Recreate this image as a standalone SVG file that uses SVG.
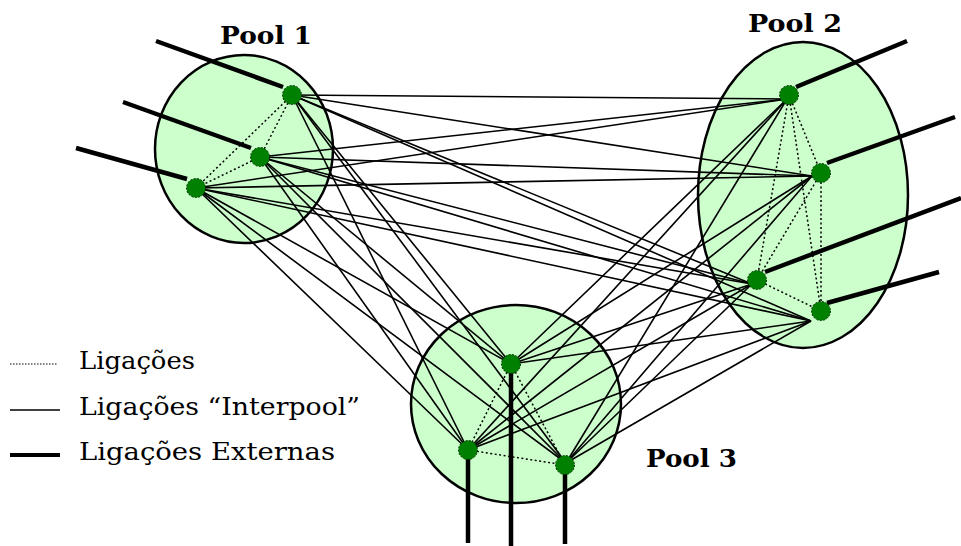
<svg xmlns="http://www.w3.org/2000/svg" width="961" height="546" viewBox="0 0 961 546">
<style>
.pool{fill:#ccffcc;stroke:#000;stroke-width:2.5}
.inter{stroke:#000;stroke-width:1.6;fill:none}
.intra{stroke:#000;stroke-width:1.5;stroke-dasharray:2,2.5;fill:none}
.ext{stroke:#000;stroke-width:4.5;fill:none}
.node{fill:#008000;stroke:#003300;stroke-width:1;stroke-dasharray:2,1.5}
.plabel{font-family:"DejaVu Serif",serif;font-weight:bold;font-size:25px;fill:#000}
.legend{font-family:"DejaVu Serif","Liberation Serif",serif;font-size:25px;fill:#000}
</style>
<rect width="961" height="546" fill="#fff"/>
<g id="pools">
<ellipse id="pool1-area" class="pool" cx="244" cy="149" rx="89" ry="94"/>
<ellipse id="pool2-area" class="pool" cx="803" cy="195" rx="105" ry="153"/>
<ellipse id="pool3-area" class="pool" cx="516" cy="404" rx="105" ry="99"/>
</g>
<g id="connectors">
<g id="interpool">
<line class="inter" x1="292" y1="95" x2="787" y2="99"/>
<line class="inter" x1="292" y1="95" x2="812" y2="176"/>
<line class="inter" x1="292" y1="95" x2="752" y2="284"/>
<line class="inter" x1="292" y1="95" x2="811" y2="321"/>
<line class="inter" x1="260" y1="157" x2="787" y2="99"/>
<line class="inter" x1="260" y1="157" x2="812" y2="176"/>
<line class="inter" x1="260" y1="157" x2="752" y2="284"/>
<line class="inter" x1="260" y1="157" x2="811" y2="321"/>
<line class="inter" x1="196" y1="188" x2="787" y2="99"/>
<line class="inter" x1="196" y1="188" x2="812" y2="176"/>
<line class="inter" x1="196" y1="188" x2="752" y2="284"/>
<line class="inter" x1="196" y1="188" x2="811" y2="321"/>
<line class="inter" x1="292" y1="95" x2="511" y2="364"/>
<line class="inter" x1="292" y1="95" x2="468" y2="450"/>
<line class="inter" x1="292" y1="95" x2="566" y2="463"/>
<line class="inter" x1="260" y1="157" x2="511" y2="364"/>
<line class="inter" x1="260" y1="157" x2="468" y2="450"/>
<line class="inter" x1="260" y1="157" x2="566" y2="463"/>
<line class="inter" x1="196" y1="188" x2="511" y2="364"/>
<line class="inter" x1="196" y1="188" x2="468" y2="450"/>
<line class="inter" x1="196" y1="188" x2="566" y2="463"/>
<line class="inter" x1="787" y1="99" x2="511" y2="364"/>
<line class="inter" x1="787" y1="99" x2="468" y2="450"/>
<line class="inter" x1="787" y1="99" x2="566" y2="463"/>
<line class="inter" x1="812" y1="176" x2="511" y2="364"/>
<line class="inter" x1="812" y1="176" x2="468" y2="450"/>
<line class="inter" x1="812" y1="176" x2="566" y2="463"/>
<line class="inter" x1="752" y1="284" x2="511" y2="364"/>
<line class="inter" x1="752" y1="284" x2="468" y2="450"/>
<line class="inter" x1="752" y1="284" x2="566" y2="463"/>
<line class="inter" x1="811" y1="321" x2="511" y2="364"/>
<line class="inter" x1="811" y1="321" x2="468" y2="450"/>
<line class="inter" x1="811" y1="321" x2="566" y2="463"/>
</g>
<g id="intrapool">
<line class="intra" x1="292" y1="95" x2="260" y2="157"/>
<line class="intra" x1="292" y1="95" x2="196" y2="188"/>
<line class="intra" x1="260" y1="157" x2="196" y2="188"/>
<line class="intra" x1="789" y1="95" x2="821" y2="173"/>
<line class="intra" x1="789" y1="95" x2="757" y2="280"/>
<line class="intra" x1="789" y1="95" x2="821" y2="311"/>
<line class="intra" x1="821" y1="173" x2="757" y2="280"/>
<line class="intra" x1="821" y1="173" x2="821" y2="311"/>
<line class="intra" x1="757" y1="280" x2="821" y2="311"/>
<line class="intra" x1="511" y1="364" x2="468" y2="450"/>
<line class="intra" x1="511" y1="364" x2="565" y2="465"/>
<line class="intra" x1="468" y1="450" x2="565" y2="465"/>
</g>
<g id="external">
<line class="ext" x1="156" y1="41" x2="283" y2="87"/>
<line class="ext" x1="123" y1="102" x2="251" y2="148"/>
<line class="ext" x1="76" y1="148" x2="187" y2="179"/>
<line class="ext" x1="907" y1="41" x2="796" y2="87"/>
<line class="ext" x1="955" y1="117" x2="827" y2="163"/>
<line class="ext" x1="961" y1="198" x2="765" y2="272"/>
<line class="ext" x1="939" y1="272" x2="827" y2="303"/>
<line class="ext" x1="468" y1="455" x2="468" y2="543"/>
<line class="ext" x1="511" y1="370" x2="511" y2="546"/>
<line class="ext" x1="565" y1="470" x2="565" y2="544"/>
</g>
</g>
<g id="pool1-nodes">
<circle id="p1n1" class="node" cx="292" cy="95" r="9.5"/>
<circle id="p1n2" class="node" cx="260" cy="157" r="9.5"/>
<circle id="p1n3" class="node" cx="196" cy="188" r="9.5"/>
</g>
<g id="pool2-nodes">
<circle id="p2n1" class="node" cx="789" cy="95" r="9.5"/>
<circle id="p2n2" class="node" cx="821" cy="173" r="9.5"/>
<circle id="p2n3" class="node" cx="757" cy="280" r="9.5"/>
<circle id="p2n4" class="node" cx="821" cy="311" r="9.5"/>
</g>
<g id="pool3-nodes">
<circle id="p3n1" class="node" cx="511" cy="364" r="9.5"/>
<circle id="p3n2" class="node" cx="468" cy="450" r="9.5"/>
<circle id="p3n3" class="node" cx="565" cy="465" r="9.5"/>
</g>
<g id="labels">
<text class="plabel" x="220" y="44" textLength="92" lengthAdjust="spacingAndGlyphs">Pool 1</text>
<text class="plabel" x="748" y="32" textLength="94" lengthAdjust="spacingAndGlyphs">Pool 2</text>
<text class="plabel" x="646" y="467" textLength="91" lengthAdjust="spacingAndGlyphs">Pool 3</text>
</g>
<g id="legend">
<line class="intra" x1="10" y1="364" x2="58" y2="364" style="stroke-width:1;stroke-dasharray:1.5,1.5"/>
<line class="inter" x1="10" y1="410" x2="60" y2="410"/>
<line class="ext" x1="10" y1="455" x2="60" y2="455" style="stroke-width:4"/>
<text class="legend" x="79" y="369" textLength="116" lengthAdjust="spacingAndGlyphs">Ligações</text>
<text class="legend" x="79" y="415" textLength="281" lengthAdjust="spacingAndGlyphs">Ligações “Interpool”</text>
<text class="legend" x="79" y="460" textLength="256" lengthAdjust="spacingAndGlyphs">Ligações Externas</text>
</g>
</svg>
